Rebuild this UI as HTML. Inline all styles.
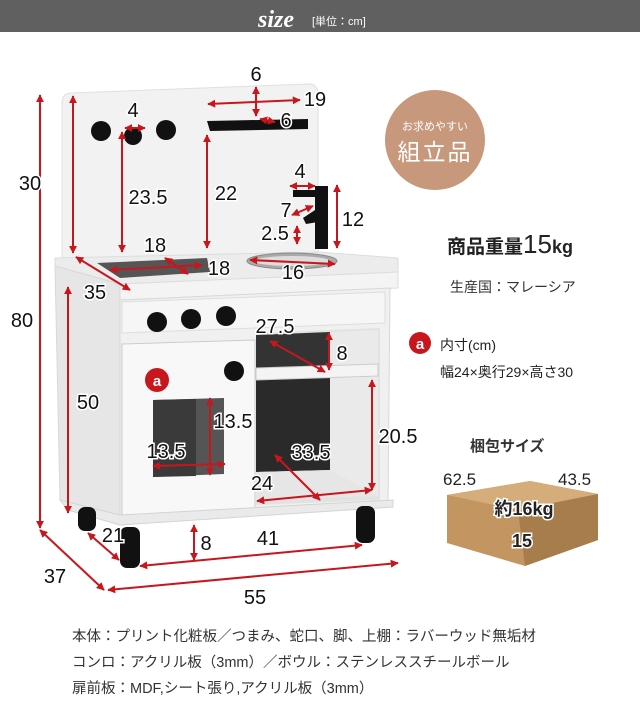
<!DOCTYPE html>
<html><head><meta charset="utf-8"><style>
body{margin:0;width:640px;height:717px;background:#fff;overflow:hidden;font-family:"Liberation Sans","Noto Sans CJK JP",sans-serif}
svg{position:absolute;left:0;top:0}
</style></head><body>
<svg width="640" height="717" viewBox="0 0 640 717">
<defs>
<marker id="a" viewBox="0 0 10 10" refX="9" refY="5" markerWidth="4" markerHeight="4" orient="auto-start-reverse"><path d="M0,0L10,5L0,10z" fill="#c8161d"/></marker>
</defs>
<rect x="0" y="0" width="640" height="32" fill="#606060"/>
<text x="258" y="27" font-family="Liberation Serif,serif" font-style="italic" font-weight="bold" font-size="24" fill="#fff">size</text>
<text x="312" y="25" font-size="11" fill="#fff" font-family="Liberation Sans,'Noto Sans CJK JP',sans-serif">[単位：cm]</text>

<!-- backboard -->
<path d="M62,103 Q62,93 72,93 L308,84 Q318,84 318,94 L318,258 L62,262 Z" fill="#f2f2f2" stroke="#e0e0e0"/>
<!-- counter -->
<path d="M55,258 L318,252 L398,258 L398,272 L120,284 L55,266 Z" fill="#ececec" stroke="#ddd"/>
<path d="M120,284 L398,272 L398,288 L120,300 Z" fill="#f4f4f4" stroke="#ddd"/>
<!-- side panel -->
<path d="M55,266 L120,284 L120,525 L68,510 L60,500 Z" fill="#e6e6e6" stroke="#d8d8d8"/>
<!-- front body -->
<path d="M120,300 L390,288 L388,505 L120,525 Z" fill="#f0f0f0" stroke="#d8d8d8"/>
<path d="M122,302 L385,292 L385,323 L122,333 Z" fill="#f6f6f6" stroke="#ddd"/>
<!-- right opening -->
<path d="M256,333 L380,328 L380,500 L256,505 Z" fill="#e2e2e2"/>
<path d="M256,335 L330,332 L330,368 L256,370 Z" fill="#333"/>
<path d="M256,378 L330,376 L330,470 L256,472 Z" fill="#2a2a2a"/>
<path d="M330,332 L378,330 L378,496 L330,470 Z" fill="#eaeaea"/>
<path d="M256,368 L378,364 L378,376 L256,380 Z" fill="#f4f4f4" stroke="#ccc"/>
<path d="M256,472 L330,470 L378,496 L256,500 Z" fill="#e6e6e6"/>
<!-- oven door -->
<path d="M122,344 L255,340 L255,512 L122,517 Z" fill="#f8f8f8" stroke="#ccc"/>
<path d="M153,400 L224,398 L224,474 L153,477 Z" fill="#555" />
<path d="M153,400 L196,399 L196,476 L153,477 Z" fill="#3a3a3a"/>
<!-- base -->
<path d="M60,500 L120,515 L393,500 L393,507 L120,525 L68,510 Z" fill="#eaeaea" stroke="#d4d4d4"/>
<!-- legs -->
<rect x="78" y="507" width="18" height="24" rx="7" fill="#111"/>
<rect x="120" y="527" width="20" height="41" rx="7" fill="#111"/>
<rect x="356" y="506" width="19" height="37" rx="7" fill="#111"/>
<!-- knobs -->
<circle cx="101" cy="131" r="10" fill="#111"/><circle cx="133" cy="136" r="9" fill="#111"/><circle cx="166" cy="130" r="10" fill="#111"/>
<circle cx="157" cy="322" r="10" fill="#111"/><circle cx="191" cy="319" r="10" fill="#111"/><circle cx="226" cy="316" r="10" fill="#111"/>
<circle cx="234" cy="371" r="10" fill="#111"/>
<!-- shelf -->
<path d="M207,121 L308,119 L308,129 L210,131 Z" fill="#111"/>
<!-- stove plate -->
<path d="M97,263 L207,258 L210,272 L120,278 Z" fill="#555"/>
<!-- sink -->
<ellipse cx="292" cy="261" rx="45" ry="8" fill="#aaa" stroke="#888"/>
<ellipse cx="292" cy="261" rx="38" ry="5" fill="#ddd"/>
<!-- faucet -->
<rect x="315" y="186" width="13" height="63" fill="#111"/>
<rect x="293" y="190" width="25" height="7" fill="#111"/>
<path d="M303,218 L318,208 L318,222 L306,224 Z" fill="#111"/>

<!-- badge a -->
<circle cx="157" cy="380" r="12" fill="#c8161d"/>
<text x="157" y="386" font-size="15" font-weight="bold" fill="#fff" text-anchor="middle">a</text>

<g stroke="#c8161d" stroke-width="2" fill="none" marker-start="url(#a)" marker-end="url(#a)">
<line x1="40" y1="95" x2="40" y2="528"/>
<line x1="40" y1="530" x2="104" y2="590"/>
<line x1="108" y1="590" x2="398" y2="563"/>
<line x1="73" y1="96" x2="73" y2="253"/>
<line x1="122" y1="132" x2="122" y2="252"/>
<line x1="207" y1="135" x2="207" y2="248"/>
<line x1="125" y1="128" x2="145" y2="128"/>
<line x1="208" y1="104" x2="300" y2="100"/>
<line x1="256" y1="87" x2="256" y2="116"/>
<line x1="260" y1="119" x2="275" y2="122"/>
<line x1="76" y1="257" x2="130" y2="290"/>
<line x1="68" y1="287" x2="68" y2="513"/>
<line x1="110" y1="270" x2="202" y2="265"/>
<line x1="165" y1="258" x2="188" y2="274"/>
<line x1="250" y1="260" x2="335" y2="264"/>
<line x1="337" y1="185" x2="337" y2="248"/>
<line x1="290" y1="186" x2="315" y2="186"/>
<line x1="292" y1="215" x2="313" y2="206"/>
<line x1="297" y1="226" x2="297" y2="244"/>
<line x1="270" y1="341" x2="325" y2="372"/>
<line x1="329" y1="333" x2="329" y2="370"/>
<line x1="210" y1="398" x2="210" y2="475"/>
<line x1="153" y1="466" x2="225" y2="464"/>
<line x1="372" y1="380" x2="372" y2="490"/>
<line x1="140" y1="566" x2="362" y2="545"/>
<line x1="194" y1="525" x2="194" y2="560"/>
<line x1="88" y1="533" x2="119" y2="560"/>
<line x1="257" y1="501" x2="372" y2="490"/>
<line x1="275" y1="455" x2="320" y2="500"/>
</g>

<g font-size="20" fill="#111" font-family="Liberation Sans Narrow,Liberation Sans,sans-serif" stroke="#fff" stroke-width="3" paint-order="stroke" text-anchor="middle">
<text x="256" y="81">6</text><text x="315" y="106">19</text><text x="286" y="127">6</text>
<text x="133" y="117">4</text><text x="30" y="190">30</text><text x="148" y="204">23.5</text>
<text x="226" y="200">22</text><text x="300" y="178">4</text><text x="286" y="217">7</text>
<text x="353" y="226">12</text><text x="275" y="240">2.5</text><text x="155" y="252">18</text>
<text x="219" y="275">18</text><text x="293" y="279">16</text><text x="95" y="299">35</text>
<text x="22" y="327">80</text><text x="88" y="409">50</text><text x="275" y="333">27.5</text>
<text x="342" y="360">8</text><text x="233" y="428">13.5</text><text x="166" y="458">13.5</text>
<text x="398" y="443">20.5</text><text x="311" y="459">33.5</text><text x="262" y="490">24</text>
<text x="113" y="542">21</text><text x="206" y="550">8</text><text x="268" y="545">41</text>
<text x="55" y="583">37</text><text x="255" y="604">55</text>
</g>

<!-- right column -->
<circle cx="435" cy="140" r="50" fill="#c8987c"/>
<text x="435" y="130" font-size="11" fill="#fff" text-anchor="middle">お求めやすい</text>
<text x="435" y="160" font-size="23" fill="#fff" text-anchor="middle" letter-spacing="2">組立品</text>
<text x="447" y="253" font-size="19" font-weight="bold" fill="#222">商品重量<tspan font-size="26" font-weight="normal">15</tspan><tspan font-size="18">kg</tspan></text>
<text x="450" y="292" font-size="14" fill="#333">生産国：マレーシア</text>
<circle cx="420" cy="343" r="11" fill="#c8161d"/>
<text x="420" y="349" font-size="15" font-weight="bold" fill="#fff" text-anchor="middle">a</text>
<text x="440" y="350" font-size="14" fill="#222">内寸(cm)</text>
<text x="440" y="377" font-size="14" fill="#222">幅24×奥行29×高さ30</text>
<text x="470" y="451" font-size="15" font-weight="bold" fill="#333">梱包サイズ</text>
<text x="443" y="485" font-size="17" fill="#222">62.5</text>
<text x="558" y="485" font-size="17" fill="#222">43.5</text>
<path d="M447,495 L530,481 L598,494 L598,540 L525,566 L447,543 Z" fill="#c39560"/>
<path d="M447,495 L530,481 L598,494 L518,510 Z" fill="#d4ad7a"/>
<path d="M518,510 L598,494 L598,540 L525,566 Z" fill="#a87d4c"/>
<g font-size="18" font-weight="bold" fill="#222" stroke="#fff" stroke-width="3" paint-order="stroke" text-anchor="middle">
<text x="524" y="515">約16kg</text><text x="522" y="547">15</text></g>

<g font-size="14.5" fill="#333">
<text x="72" y="641">本体：プリント化粧板／つまみ、蛇口、脚、上棚：ラバーウッド無垢材</text>
<text x="72" y="667">コンロ：アクリル板（3mm）／ボウル：ステンレススチールボール</text>
<text x="72" y="693">扉前板：MDF,シート張り,アクリル板（3mm）</text>
</g>
</svg>
</body></html>
